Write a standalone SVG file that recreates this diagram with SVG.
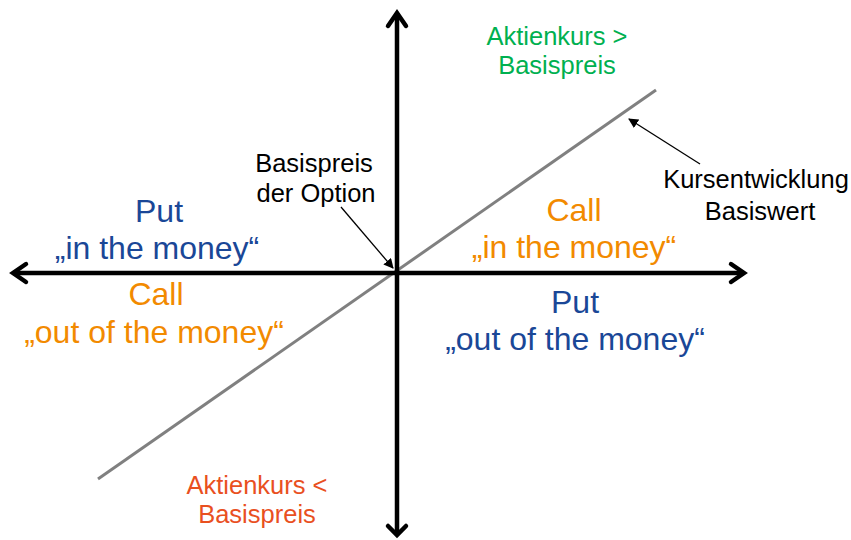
<svg xmlns="http://www.w3.org/2000/svg" width="851" height="540" viewBox="0 0 851 540">
<style>
text{font-family:"Liberation Sans",Arial,sans-serif;text-anchor:middle}
.s{font-size:25.5px}
.b{font-size:32px}
.blue{fill:#1A4797}
.orange{fill:#F28A00}
.green{fill:#00B050}
.red{fill:#E9501F}
.blk{fill:#000}
.axis{stroke:#000;stroke-width:4.5;fill:none}
.head{stroke:#000;stroke-width:4.5;fill:none;stroke-linecap:round;stroke-linejoin:miter}
.ptr{stroke:#000;stroke-width:1.3;fill:none}
</style>
<defs>
<marker id="ah" viewBox="0 0 10 10" refX="9" refY="5" markerWidth="10" markerHeight="10" markerUnits="userSpaceOnUse" orient="auto">
<path d="M0,0 L10,5 L0,10 z" fill="#000"/>
</marker>
</defs>
<rect width="851" height="540" fill="#fff"/>
<g id="connectors">
<line id="kurs" x1="98" y1="479" x2="656" y2="90" stroke="#808080" stroke-width="3"/>
<line class="axis" x1="397" y1="13" x2="397" y2="535"/>
<line class="axis" x1="13" y1="273" x2="744" y2="273"/>
<path class="head" d="M388,26 L397,13 L406,26"/>
<path class="head" d="M388,526 L397,535 L406,526"/>
<path class="head" d="M731,264 L744,273 L731,282"/>
<path class="head" d="M26,264 L13,273 L26,282"/>
<line class="ptr" x1="341" y1="207" x2="393" y2="268" marker-end="url(#ah)"/>
<line class="ptr" x1="700" y1="164" x2="629" y2="119" marker-end="url(#ah)"/>
</g>
<g id="aktien-gt">
<text class="s green" x="557" y="45">Aktienkurs &gt;</text>
<text class="s green" x="557" y="74">Basispreis</text>
</g>
<g id="basispreis-option">
<text class="s blk" x="314" y="172">Basispreis</text>
<text class="s blk" x="316" y="202">der Option</text>
</g>
<g id="kursentwicklung">
<text class="s blk" x="756" y="188">Kursentwicklung</text>
<text class="s blk" x="760" y="220">Basiswert</text>
</g>
<g id="put-itm">
<text class="b blue" x="159" y="222">Put</text>
<text class="b blue" x="157" y="259">„in the money“</text>
</g>
<g id="call-otm">
<text class="b orange" x="156" y="305">Call</text>
<text class="b orange" x="154" y="343">„out of the money“</text>
</g>
<g id="call-itm">
<text class="b orange" x="574" y="221">Call</text>
<text class="b orange" x="574" y="258">„in the money“</text>
</g>
<g id="put-otm">
<text class="b blue" x="575" y="313">Put</text>
<text class="b blue" x="575" y="350">„out of the money“</text>
</g>
<g id="aktien-lt">
<text class="s red" x="257" y="494">Aktienkurs &lt;</text>
<text class="s red" x="257" y="523">Basispreis</text>
</g>
</svg>
